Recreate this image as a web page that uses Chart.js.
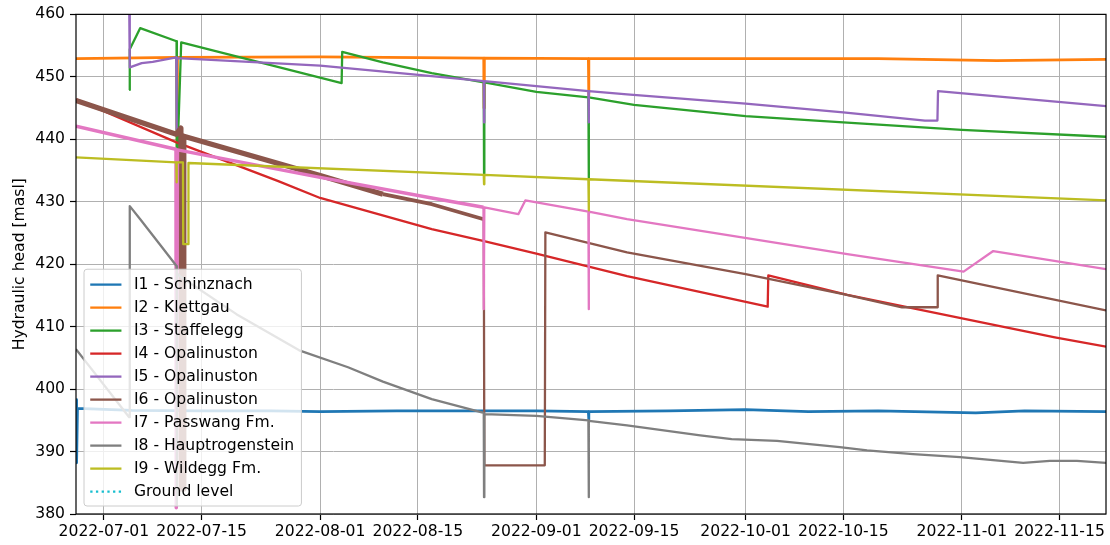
<!DOCTYPE html>
<html>
<head>
<meta charset="utf-8">
<script src="https://cdn.jsdelivr.net/npm/chart.js@4"></script>
<style>
  html, body { margin: 0; padding: 0; background: #fff; }
  #chart { display: block; }
</style>
</head>
<body>
<canvas id="chart" width="1110" height="545"></canvas>
<script>
// series labels and colours (matplotlib tab10)
const seriesNames = ['I1 - Schinznach', 'I2 - Klettgau', 'I3 - Staffelegg', 'I4 - Opalinuston', 'I5 - Opalinuston',
    'I6 - Opalinuston', 'I7 - Passwang Fm.', 'I8 - Hauptrogenstein', 'I9 - Wildegg Fm.', 'Ground level'];
const seriesColors = ['#1f77b4', '#ff7f0e', '#2ca02c', '#d62728', '#9467bd', '#8c564b', '#e377c2', '#7f7f7f', '#bcbd22', '#17becf'];

const xTickDates = ['2022-07-01', '2022-07-15', '2022-08-01', '2022-08-15', '2022-09-01',
    '2022-09-15', '2022-10-01', '2022-10-15', '2022-11-01', '2022-11-15'];
const xStart = '2022-06-27';
const xEnd = '2022-11-21T16:00';
const yMin = 380, yMax = 460, yStep = 10;

// I1 - Schinznach
const i1Dates = ['2022-06-27', '2022-06-27T02:00', '2022-06-27T05:00', '2022-07-05', '2022-07-15', '2022-07-25', '2022-08-01',
    '2022-08-12', '2022-08-24', '2022-09-01', '2022-09-08T11:00', '2022-09-08T12:00', '2022-09-08T13:00', '2022-09-20',
    '2022-10-01', '2022-10-10', '2022-10-20', '2022-11-03', '2022-11-10', '2022-11-21T16:00'];
const i1Head = [398.3, 388.2, 396.9, 396.6, 396.5, 396.5, 396.4, 396.5, 396.5, 396.5, 396.4, 395.1, 396.4, 396.5,
    396.7, 396.4, 396.5, 396.2, 396.5, 396.4];

// I2 - Klettgau
const i2Dates = ['2022-06-27', '2022-07-11T11:00', '2022-07-11T12:00', '2022-07-11T13:00', '2022-08-01',
    '2022-08-24T11:00', '2022-08-24T12:00', '2022-08-24T13:00', '2022-09-08T11:00', '2022-09-08T12:00', '2022-09-08T13:00',
    '2022-10-01', '2022-10-20', '2022-11-06', '2022-11-21T16:00'];
const i2Head = [452.9, 453.1, 436.3, 453.1, 453.2, 453.0, 445.0, 453.0, 452.9, 447.0, 452.9, 452.9, 452.9, 452.6, 452.8];

// I3 - Staffelegg
const i3Dates = ['2022-07-04T15:00', '2022-07-04T17:00', '2022-07-06T05:00', '2022-07-11T10:00', '2022-07-11T11:00',
    '2022-07-12T02:00', '2022-08-04T02:00', '2022-08-04T04:00', '2022-08-10', '2022-08-17', '2022-08-24T11:00',
    '2022-08-24T12:00', '2022-08-24T13:00', '2022-09-01', '2022-09-08T11:00', '2022-09-08T12:00', '2022-09-08T13:00',
    '2022-09-15', '2022-10-01', '2022-10-15', '2022-11-01', '2022-11-21T16:00'];
const i3Head = [447.9, 454.4, 457.8, 455.7, 434.6, 455.5, 449.0, 454.0, 452.3, 450.6, 449.1, 434.5, 449.1, 447.6,
    446.7, 433.5, 446.7, 445.5, 443.7, 442.7, 441.5, 440.4];

// I4 - Opalinuston
const i4Dates = ['2022-06-27', '2022-07-11T10:00', '2022-07-26', '2022-08-01', '2022-08-17', '2022-08-24T12:00', '2022-09-01',
    '2022-09-14', '2022-10-04T04:00', '2022-10-04T06:00', '2022-10-15T14:00', '2022-11-14T08:00', '2022-11-21T16:00'];
const i4Head = [446.4, 439.5, 433.3, 430.6, 425.6, 423.7, 421.7, 418.1, 413.2, 418.2, 415.1, 408.3, 406.8];

// I5 - Opalinuston
const i5Dates = ['2022-07-04T15:00', '2022-07-04T17:00', '2022-07-06T10:00', '2022-07-08', '2022-07-11T09:00',
    '2022-07-11T10:00', '2022-07-11T11:00', '2022-07-15', '2022-08-01', '2022-08-17', '2022-08-24T11:00', '2022-08-24T12:00',
    '2022-08-24T13:00', '2022-09-08T11:00', '2022-09-08T12:00', '2022-09-08T13:00', '2022-09-14', '2022-10-01',
    '2022-10-15', '2022-10-26T17:00', '2022-10-28T12:00', '2022-10-28T14:00', '2022-11-21T16:00'];
const i5Head = [462.0, 451.5, 452.2, 452.4, 453.1, 441.5, 453.0, 452.8, 451.8, 450.1, 449.3, 442.7, 449.3,
    447.7, 442.7, 447.7, 447.2, 445.7, 444.3, 443.0, 443.0, 447.7, 445.3];

// I6 - Opalinuston
const i6Dates = ['2022-06-27', '2022-07-11T09:00', '2022-07-12T01:00', '2022-07-12T02:00', '2022-07-12T10:00',
    '2022-07-12T11:00', '2022-08-01', '2022-08-10', '2022-08-17', '2022-08-24T11:00', '2022-08-24T13:00',
    '2022-09-02T05:00', '2022-09-02T07:00', '2022-09-14', '2022-10-01', '2022-10-15', '2022-10-23T10:00',
    '2022-10-28T11:00', '2022-10-28T13:00', '2022-11-21T16:00'];
const i6Head = [446.2, 440.8, 441.8, 384.0, 384.0, 440.5, 434.2, 431.2, 429.6, 427.2, 387.8,
    387.8, 425.1, 421.9, 418.4, 415.2, 413.1, 413.1, 418.2, 412.6];

// I7 - Passwang Fm.
const i7Dates = ['2022-06-27', '2022-07-11T08:00', '2022-07-11T09:00', '2022-07-11T11:00', '2022-07-11T13:00',
    '2022-08-01', '2022-08-17', '2022-08-24T10:00', '2022-08-24T11:00', '2022-08-24T13:00', '2022-08-29T10:00',
    '2022-08-30T10:00', '2022-09-08T11:00', '2022-09-08T12:00', '2022-09-08T13:00', '2022-09-14', '2022-10-15T14:00',
    '2022-11-01T06:00', '2022-11-05T12:00', '2022-11-21T16:00'];
const i7Head = [442.1, 438.4, 381.0, 381.0, 438.3, 433.9, 430.6, 429.1, 412.8, 429.1, 428.0,
    430.2, 428.4, 412.8, 428.4, 427.2, 421.6, 418.8, 422.1, 419.2];

// I8 - Hauptrogenstein
const i8Dates = ['2022-06-27', '2022-07-04T15:00', '2022-07-04T17:00', '2022-07-06T05:00', '2022-07-09', '2022-07-11T10:00',
    '2022-07-11T11:00', '2022-07-11T12:00', '2022-07-12', '2022-07-20', '2022-07-29', '2022-08-05', '2022-08-10',
    '2022-08-17', '2022-08-24T11:00', '2022-08-24T12:00', '2022-08-24T13:00', '2022-09-01', '2022-09-08T11:00',
    '2022-09-08T12:00', '2022-09-08T13:00', '2022-09-14', '2022-09-24T12:00', '2022-09-29', '2022-10-05T12:00',
    '2022-10-14T12:00', '2022-10-18T10:00', '2022-10-25', '2022-10-31T18:00', '2022-11-09T19:00', '2022-11-13T15:00',
    '2022-11-17T12:00', '2022-11-21T16:00'];
const i8Head = [406.4, 395.5, 429.3, 427.2, 423.2, 419.7, 381.5, 418.5, 418.0, 412.0, 406.2, 403.5, 401.2,
    398.4, 396.2, 382.7, 396.0, 395.7, 395.0, 382.7, 394.9, 394.2, 392.6, 392.0, 391.7,
    390.7, 390.2, 389.6, 389.1, 388.2, 388.5, 388.5, 388.2];

// I9 - Wildegg Fm.
const i9Dates = ['2022-06-27', '2022-07-11T09:00', '2022-07-11T10:00', '2022-07-11T11:00', '2022-07-12T08:00',
    '2022-07-12T09:00', '2022-07-13T02:00', '2022-07-13T03:00', '2022-08-24T11:00', '2022-08-24T12:00', '2022-08-24T13:00',
    '2022-09-08T11:00', '2022-09-08T12:00', '2022-09-08T13:00', '2022-11-21T16:00'];
const i9Head = [437.1, 436.3, 433.1, 436.3, 436.3, 423.2, 423.2, 436.2, 434.3, 432.8, 434.3, 433.6, 428.6, 433.6, 430.2];

// Ground level (lies above the plotted range)
const groundDates = [];
const groundHead = [];

const seriesDates = [i1Dates, i2Dates, i3Dates, i4Dates, i5Dates, i6Dates, i7Dates, i8Dates, i9Dates, groundDates];
const seriesHeads = [i1Head, i2Head, i3Head, i4Head, i5Head, i6Head, i7Head, i8Head, i9Head, groundHead];

function toMs(s) {
    return Date.parse(s.length === 10 ? s + 'T00:00Z' : s + 'Z');
}

function fmtDate(ms) {
    return new Date(ms).toISOString().slice(0, 10);
}

const FONT = 'DejaVu Sans';
const FS = 15.6;
const LW = 2.3;

// noisy loggers look like thick bands early on
const thickBands = {
    0: [[xEnd, 2.8]],
    1: [[xEnd, 2.8]],
    5: [['2022-08-10', 5.2], ['2022-08-24T11:00', 3.8], [xEnd, LW]],
    6: [['2022-08-24T10:00', 3.5], [xEnd, LW]]
};

function segWidth(i) {
    const bands = thickBands[i];
    if (!bands) return undefined;
    return ctx => {
        const x = ctx.p0.parsed.x;
        for (const [until, w] of bands) {
            if (x < toMs(until)) return w;
        }
        return LW;
    };
}

const datasets = seriesNames.map((name, i) => ({
    label: name,
    data: seriesDates[i].map((d, k) => ({ x: toMs(d), y: seriesHeads[i][k] })),
    borderColor: seriesColors[i],
    backgroundColor: seriesColors[i],
    borderWidth: LW,
    borderDash: name === 'Ground level' ? [LW, 3.4] : [],
    borderJoinStyle: 'round',
    pointRadius: 0,
    tension: 0,
    fill: false,
    clip: 0,
    order: seriesNames.length - i,
    segment: { borderWidth: segWidth(i) }
}));

// black frame around the axes
const framePlugin = {
    id: 'frame',
    afterDatasetsDraw(chart) {
        const { ctx, chartArea: a } = chart;
        ctx.save();
        ctx.strokeStyle = '#000';
        ctx.lineWidth = 1.2;
        ctx.strokeRect(a.left, a.top, a.right - a.left, a.bottom - a.top);
        ctx.restore();
    }
};

// matplotlib style legend, lower left inside the axes
const boxLegend = {
    id: 'boxLegend',
    afterDraw(chart) {
        const { ctx, chartArea: a } = chart;
        const pad = 0.4 * FS, handle = 2 * FS, gap = 0.8 * FS, rowH = 15.3, spacing = 7.7;
        ctx.save();
        ctx.font = FS + 'px "' + FONT + '"';
        let maxW = 0;
        seriesNames.forEach(n => { maxW = Math.max(maxW, ctx.measureText(n).width); });
        const w = pad * 2 + handle + gap + maxW + 1;
        const h = pad * 2 + seriesNames.length * rowH + (seriesNames.length - 1) * spacing + 2;
        const x0 = a.left + 8;
        const y0 = a.bottom - 8 - h;

        ctx.beginPath();
        ctx.roundRect(x0, y0, w, h, 3);
        ctx.fillStyle = 'rgba(255,255,255,0.8)';
        ctx.fill();
        ctx.strokeStyle = '#cccccc';
        ctx.lineWidth = 1;
        ctx.stroke();

        seriesNames.forEach((n, i) => {
            const cy = y0 + pad + 1 + rowH / 2 + i * (rowH + spacing) + 0.5;
            const hx = x0 + pad;
            ctx.beginPath();
            ctx.setLineDash(n === 'Ground level' ? [LW, 3.4] : []);
            ctx.strokeStyle = seriesColors[i];
            ctx.lineWidth = LW;
            ctx.moveTo(hx, cy);
            ctx.lineTo(hx + handle, cy);
            ctx.stroke();
            ctx.setLineDash([]);
            ctx.fillStyle = '#000';
            ctx.textBaseline = 'middle';
            ctx.textAlign = 'left';
            ctx.fillText(n, hx + handle + gap, cy);
        });
        ctx.restore();
    }
};

new Chart(document.getElementById('chart'), {
    type: 'line',
    data: { datasets: datasets },
    options: {
        responsive: false,
        animation: false,
        devicePixelRatio: 1,
        layout: { padding: { top: 14, right: 4, left: 0, bottom: 0 } },
        plugins: {
            legend: { display: false },
            tooltip: { enabled: false }
        },
        scales: {
            x: {
                type: 'linear',
                min: toMs(xStart),
                max: toMs(xEnd),
                afterBuildTicks: s => { s.ticks = xTickDates.map(d => ({ value: toMs(d) })); },
                afterFit: s => { s.height = 31; },
                grid: { color: '#b0b0b0', lineWidth: 1, tickColor: '#000', tickLength: 6, tickWidth: 1.2 },
                border: { display: false },
                ticks: {
                    autoSkip: false,
                    maxRotation: 0,
                    padding: 3,
                    color: '#000',
                    font: { family: FONT, size: FS },
                    callback: v => fmtDate(v)
                }
            },
            y: {
                min: yMin,
                max: yMax,
                afterFit: s => { s.width = 76; },
                grid: { color: '#b0b0b0', lineWidth: 1, tickColor: '#000', tickLength: 6, tickWidth: 1.2 },
                border: { display: false },
                ticks: {
                    stepSize: yStep,
                    padding: 5,
                    color: '#000',
                    font: { family: FONT, size: FS }
                },
                title: {
                    display: true,
                    text: 'Hydraulic head [masl]',
                    color: '#000',
                    padding: { top: 11, bottom: 0 },
                    font: { family: FONT, size: FS }
                }
            }
        }
    },
    plugins: [framePlugin, boxLegend]
});
</script>
</body>
</html>
